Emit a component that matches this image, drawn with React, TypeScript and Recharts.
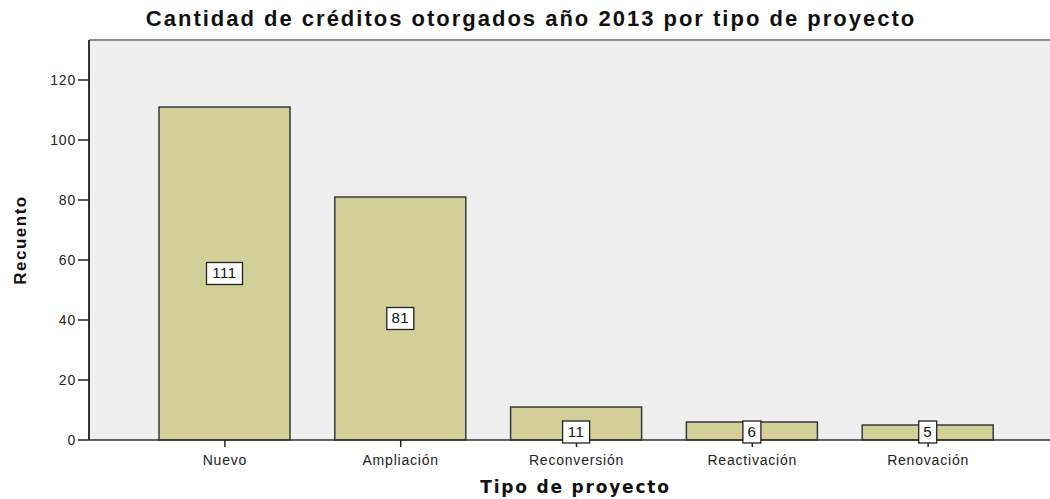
import { Bar, BarChart, CartesianGrid, Label, LabelList, ReferenceLine, XAxis, YAxis } from "recharts";

const categories = ["Nuevo", "Ampliación", "Reconversión", "Reactivación", "Renovación"];
const counts = [111, 81, 11, 6, 5];
const yTicks = [0, 20, 40, 60, 80, 100, 120];
const yMax = 133.33;

const data = categories.map((name, i) => ({ name, value: counts[i] }));

const font = "'Liberation Sans', Arial, sans-serif";
const tickStyle = { fontSize: 14, fontFamily: font, fill: "#222", letterSpacing: 0.8 };

function ValueBox(props: any) {
  const { x, y, width, height, value } = props;
  const cx = x + width / 2;
  const bottom = y + height;
  const cy = height < 40 ? bottom - 8 : y + height / 2;
  const text = String(value);
  const w = text.length * 9 + 9;
  const h = 22;
  return (
    <g>
      <rect x={cx - w / 2} y={cy - h / 2} width={w} height={h} fill="#fff" stroke="#222" strokeWidth={1.3} />
      <text x={cx} y={cy + 5} textAnchor="middle" fontSize={15} fontFamily={font} fill="#111" letterSpacing={0.5}>
        {text}
      </text>
    </g>
  );
}

export default function App() {
  return (
    <div style={{ position: "absolute", left: 0, top: 0, width: 1050, height: 499, background: "#fff" }}>
      <div
        style={{
          position: "absolute",
          left: 0,
          width: 1062,
          top: 6,
          textAlign: "center",
          fontFamily: font,
          fontWeight: "bold",
          fontSize: 22,
          letterSpacing: 2,
          color: "#111",
          lineHeight: "26px",
        }}
      >
        Cantidad de créditos otorgados año 2013 por tipo de proyecto
      </div>
      <BarChart width={1050} height={499} data={data} margin={{ top: 40, right: 0, left: 0, bottom: 34 }}>
        <CartesianGrid fill="#EFEFEF" horizontal={false} vertical={false} />
        <XAxis
          dataKey="name"
          padding={{ left: 48, right: 34 }}
          height={25}
          tick={{ ...tickStyle, dy: 6 }}
          tickSize={7}
          tickLine={{ stroke: "#222", strokeWidth: 1.5 }}
          axisLine={{ stroke: "#333", strokeWidth: 1.5 }}
        >
          <Label
            value="Tipo de proyecto"
            position="insideBottom"
            offset={-28}
            dx={6}
            style={{
              fontSize: 17,
              fontWeight: "bold",
              fontFamily: "'DejaVu Sans', sans-serif",
              fill: "#111",
              letterSpacing: 1.8,
            }}
          />
        </XAxis>
        <YAxis
          width={89}
          domain={[0, yMax]}
          ticks={yTicks}
          tick={tickStyle}
          tickSize={11}
          tickLine={{ stroke: "#222", strokeWidth: 1.5 }}
          axisLine={{ stroke: "#333", strokeWidth: 2 }}
        >
          <Label
            value="Recuento"
            angle={-90}
            position="insideLeft"
            offset={20}
            style={{
              fontSize: 17,
              fontWeight: "bold",
              fontFamily: font,
              fill: "#111",
              textAnchor: "middle",
              letterSpacing: 1.5,
            }}
          />
        </YAxis>
        <ReferenceLine y={yMax} stroke="#8f8f8f" strokeWidth={2} />
        <Bar dataKey="value" fill="#D3CF98" stroke="#3a3a3a" strokeWidth={1.5} barSize={131} isAnimationActive={false}>
          <LabelList dataKey="value" content={ValueBox} />
        </Bar>
      </BarChart>
    </div>
  );
}
